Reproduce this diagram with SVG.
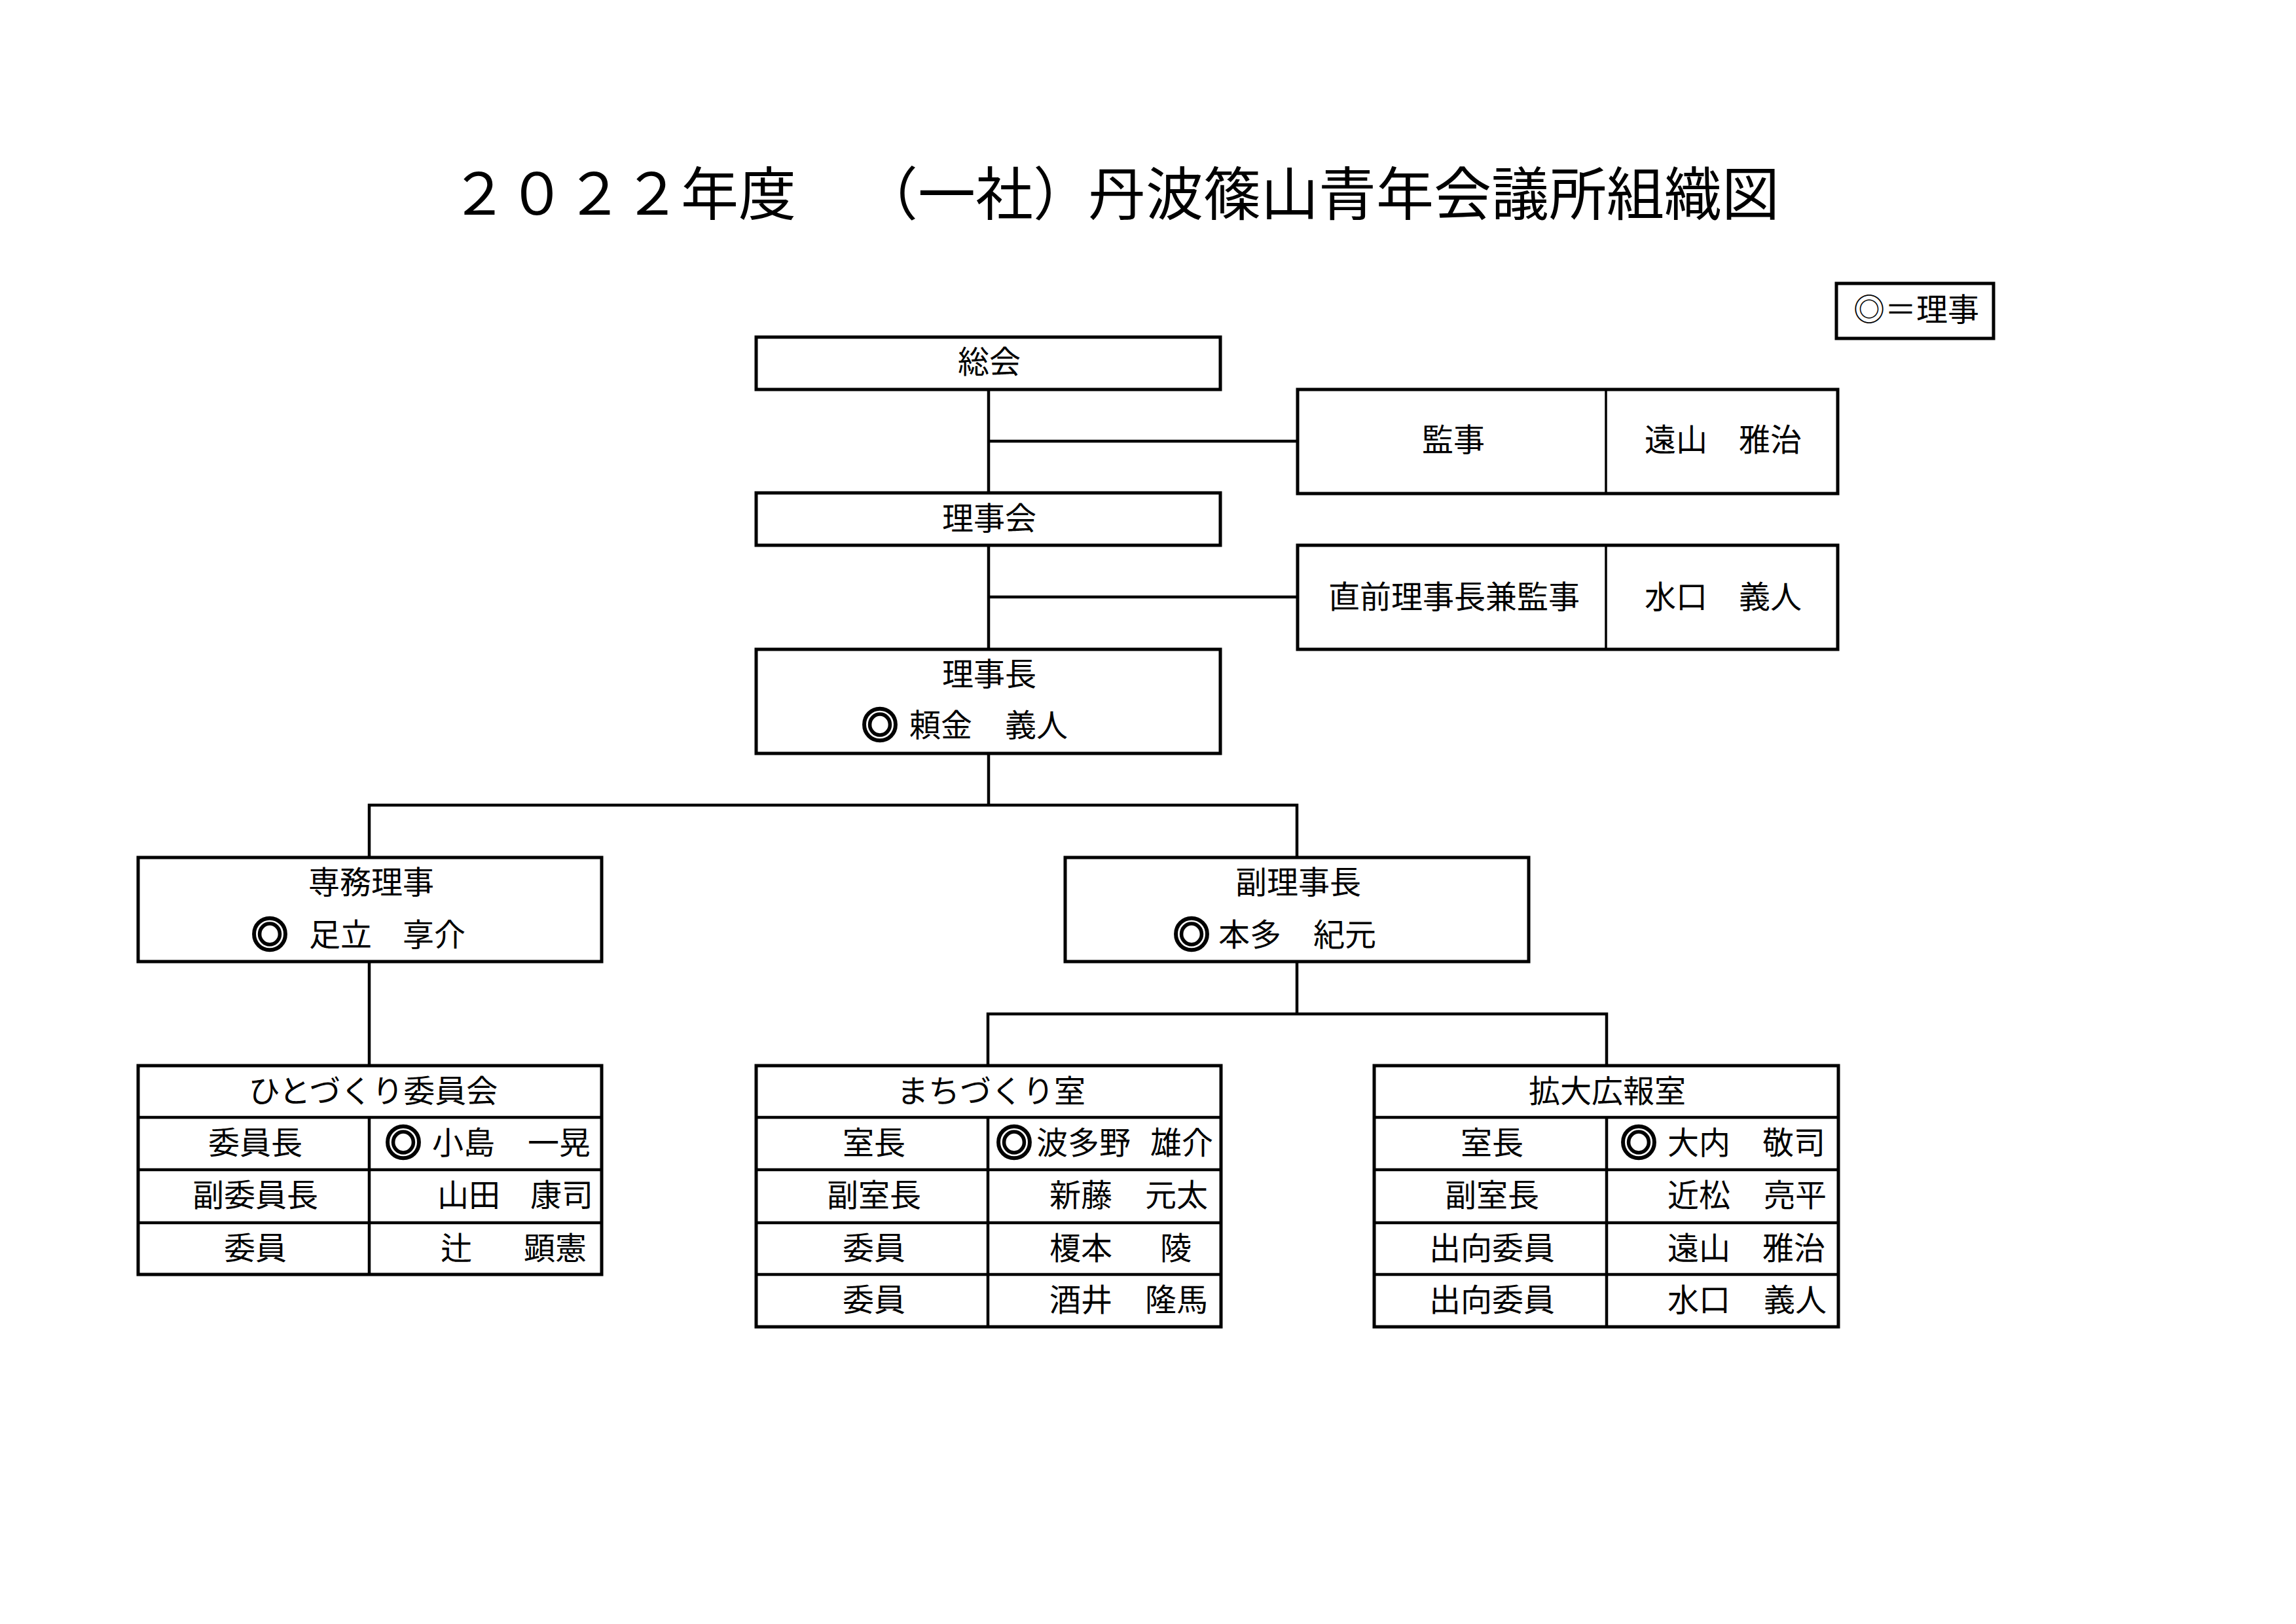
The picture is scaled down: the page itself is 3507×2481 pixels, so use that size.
<svg xmlns="http://www.w3.org/2000/svg" width="3507" height="2481" viewBox="0 0 3507 2481">
<style>
text{font-family:"Noto Sans CJK JP","Noto Sans CJK SC",sans-serif;font-size:48px;fill:#000;text-spacing-trim:space-all}
.c{text-anchor:middle}
.title{font-size:88px}
.mark{font-weight:700;font-size:56px;text-anchor:middle;stroke:#000;stroke-width:3.5}
.box{fill:#fff;stroke:#000;stroke-width:5}
.in{stroke:#000;stroke-width:4.5;fill:none}
.thin{stroke:#000;stroke-width:3.5;fill:none}
.con{stroke:#000;stroke-width:4.5;fill:none;stroke-linejoin:miter}
</style>
<rect width="3507" height="2481" fill="#fff"/>
<text class="title" y="328"><tspan x="688">２０２２年度</tspan><tspan x="1314">（一社）</tspan><tspan x="1662">丹波篠山青年会議所組織図</tspan></text>

<g id="legend">
<rect class="box" x="2805" y="433" width="240" height="84"/>
<text x="2831" y="490">◎＝理事</text>
</g>

<g id="connectors">
<path class="con" d="M1510 595V992"/>
<path class="con" d="M1510 674H1982"/>
<path class="con" d="M1510 912H1982"/>
<path class="con" d="M1510 1151V1230"/>
<path class="con" d="M564 1310V1230H1981V1310"/>
<path class="con" d="M564 1469V1628"/>
<path class="con" d="M1981 1469V1549"/>
<path class="con" d="M1509 1628V1549H2454V1628"/>
</g>

<g id="soukai">
<rect class="box" x="1155" y="515" width="709" height="80"/>
<text class="c" x="1511" y="570">総会</text>
</g>

<g id="kanji">
<rect class="box" x="1982" y="595" width="825" height="159"/>
<path class="thin" d="M2453 595V754"/>
<text class="c" x="2220" y="689">監事</text>
<text class="c" x="2632" y="689">遠山　雅治</text>
</g>

<g id="rijikai">
<rect class="box" x="1155" y="753" width="709" height="80"/>
<text class="c" x="1511" y="809">理事会</text>
</g>

<g id="chokuzen">
<rect class="box" x="1982" y="833" width="825" height="159"/>
<path class="thin" d="M2453 833V992"/>
<text class="c" x="2221" y="929">直前理事長兼監事</text>
<text class="c" x="2632" y="929">水口　義人</text>
</g>

<g id="rijicho">
<rect class="box" x="1155" y="992" width="709" height="159"/>
<text class="c" x="1511" y="1047">理事長</text>
<text class="mark" x="1344" y="1128">◎</text>
<text x="1389" y="1125">頼金</text>
<text x="1535" y="1125">義人</text>
</g>

<g id="senmu">
<rect class="box" x="211" y="1310" width="708" height="159"/>
<text class="c" x="567" y="1365">専務理事</text>
<text class="mark" x="412" y="1448">◎</text>
<text x="472" y="1445">足立</text>
<text x="615" y="1445">享介</text>
</g>

<g id="fukuriji">
<rect class="box" x="1627" y="1310" width="708" height="159"/>
<text class="c" x="1983" y="1365">副理事長</text>
<text class="mark" x="1820" y="1448">◎</text>
<text x="1861" y="1445">本多</text>
<text x="2006" y="1445">紀元</text>
</g>

<g id="hitozukuri">
<rect class="box" x="211" y="1628" width="708" height="319"/>
<path class="in" d="M211 1707H919M211 1787H919M211 1868H919M564 1707V1947"/>
<text class="c" x="570" y="1684">ひとづくり委員会</text>
<text class="c" x="390" y="1763">委員長</text>
<text class="c" x="390" y="1843">副委員長</text>
<text class="c" x="390" y="1924">委員</text>
<text class="mark" x="616" y="1766">◎</text>
<text x="660" y="1763">小島</text>
<text x="806" y="1763">一晃</text>
<text x="668" y="1843">山田</text>
<text x="810" y="1843">康司</text>
<text x="673" y="1924">辻</text>
<text x="800" y="1924">顕憲</text>
</g>

<g id="machizukuri">
<rect class="box" x="1155" y="1628" width="710" height="399"/>
<path class="in" d="M1155 1707H1865M1155 1787H1865M1155 1868H1865M1155 1947H1865M1509 1707V2027"/>
<text class="c" x="1514" y="1684">まちづくり室</text>
<text class="c" x="1335" y="1763">室長</text>
<text class="c" x="1335" y="1843">副室長</text>
<text class="c" x="1335" y="1924">委員</text>
<text class="c" x="1335" y="2003">委員</text>
<text class="mark" x="1549" y="1766">◎</text>
<text x="1583" y="1763">波多野</text>
<text x="1757" y="1763">雄介</text>
<text x="1603" y="1843">新藤</text>
<text x="1749" y="1843">元太</text>
<text x="1603" y="1924">榎本</text>
<text x="1772" y="1924">陵</text>
<text x="1603" y="2003">酒井</text>
<text x="1749" y="2003">隆馬</text>
</g>

<g id="kakudai">
<rect class="box" x="2099" y="1628" width="709" height="399"/>
<path class="in" d="M2099 1707H2808M2099 1787H2808M2099 1868H2808M2099 1947H2808M2454 1707V2027"/>
<text class="c" x="2455" y="1684">拡大広報室</text>
<text class="c" x="2279" y="1763">室長</text>
<text class="c" x="2279" y="1843">副室長</text>
<text class="c" x="2279" y="1924">出向委員</text>
<text class="c" x="2279" y="2003">出向委員</text>
<text class="mark" x="2503" y="1766">◎</text>
<text x="2547" y="1763">大内</text>
<text x="2692" y="1763">敬司</text>
<text x="2547" y="1843">近松</text>
<text x="2694" y="1843">亮平</text>
<text x="2547" y="1924">遠山</text>
<text x="2692" y="1924">雅治</text>
<text x="2547" y="2003">水口</text>
<text x="2694" y="2003">義人</text>
</g>
</svg>
